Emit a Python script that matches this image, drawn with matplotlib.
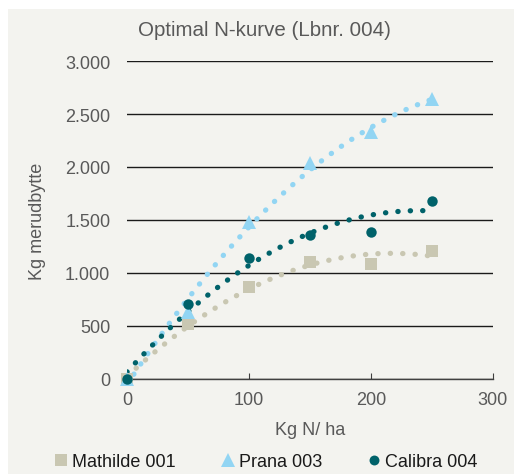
import numpy as np
import matplotlib
matplotlib.use("Agg")
import matplotlib.pyplot as plt
from matplotlib.patches import Rectangle
from matplotlib.ticker import FuncFormatter

# data
n_doses = [0, 50, 100, 150, 200, 250]
mathilde = [0, 520, 870, 1100, 1085, 1205]
prana = [0, 635, 1480, 2035, 2330, 2640]
calibra = [0, 710, 1145, 1360, 1385, 1680]
series_names = ["Mathilde 001", "Prana 003", "Calibra 004"]
x_ticks = [0, 100, 200, 300]
y_ticks = [0, 500, 1000, 1500, 2000, 2500, 3000]

colors = ["#c9c7b2", "#92d5f3", "#00626a"]
markers = ["s", "^", "o"]
msizes = [9, 10, 7.5]

plt.rcParams["font.family"] = ["Liberation Sans", "DejaVu Sans"]

fig = plt.figure(figsize=(5.14, 4.77), dpi=100)
fig.patch.set_facecolor("white")
# grey chart panel
fig.patches.append(Rectangle((8 / 514, 2 / 477), 506 / 514, 465 / 477,
                             transform=fig.transFigure, facecolor="#f3f3ef",
                             edgecolor="none", zorder=-10))

ax = fig.add_axes([0.247, 0.2034, 0.712, 0.6666])
ax.set_facecolor("none")

xs = np.array(n_doses, dtype=float)
xfit = np.linspace(0, 250, 200)
for vals, name, c, m, ms in zip([mathilde, prana, calibra], series_names, colors, markers, msizes):
    # polynomial (2nd order) trendline like Excel
    coef = np.polyfit(xs, np.array(vals, dtype=float), 2)
    ax.plot(xfit, np.polyval(coef, xfit), color=c, lw=3.8, linestyle=(0, (0.05, 2.3)),
            dash_capstyle="round", zorder=2)
    ax.plot(xs, vals, linestyle="none", marker=m, markersize=ms, color=c,
            markeredgewidth=0, label=name, zorder=3, clip_on=False)

ax.set_xlim(0, 300)
ax.set_ylim(0, 3000)
ax.set_xticks(x_ticks)
ax.set_yticks(y_ticks)
ax.yaxis.set_major_formatter(FuncFormatter(lambda v, p: f"{int(v):,}".replace(",", ".")))

for s in ["top", "right", "left"]:
    ax.spines[s].set_visible(False)
ax.spines["bottom"].set_color("#404040")
ax.spines["bottom"].set_linewidth(1.0)
ax.grid(axis="y", color="#1a1a1a", lw=1.0)
ax.set_axisbelow(True)
ax.tick_params(axis="y", length=0, pad=12, labelsize=13, labelcolor="#595959")
ax.tick_params(axis="x", direction="in", length=4, color="#404040", pad=9,
               labelsize=13, labelcolor="#595959")

# title is centred on the whole chart panel, not on the plot area
fig.text(264 / 514, 1 - 31 / 477, "Optimal N-kurve (Lbnr. 004)", fontsize=14.8,
         color="#595959", ha="center", va="center")
ax.set_xlabel("Kg N/ ha", fontsize=13, color="#595959", labelpad=9)
ax.set_ylabel("Kg merudbytte", fontsize=13, color="#595959", labelpad=14)

leg = fig.legend(loc="center left", bbox_to_anchor=(54 / 514, 1 - 463 / 477), ncol=3,
                 frameon=False, fontsize=13, handletextpad=0.2, columnspacing=2.5,
                 handlelength=0.8, borderpad=0, borderaxespad=0, markerscale=0.95)
for t in leg.get_texts():
    t.set_color("#1a1a1a")

fig.savefig("out.png", dpi=100, facecolor=fig.get_facecolor())
